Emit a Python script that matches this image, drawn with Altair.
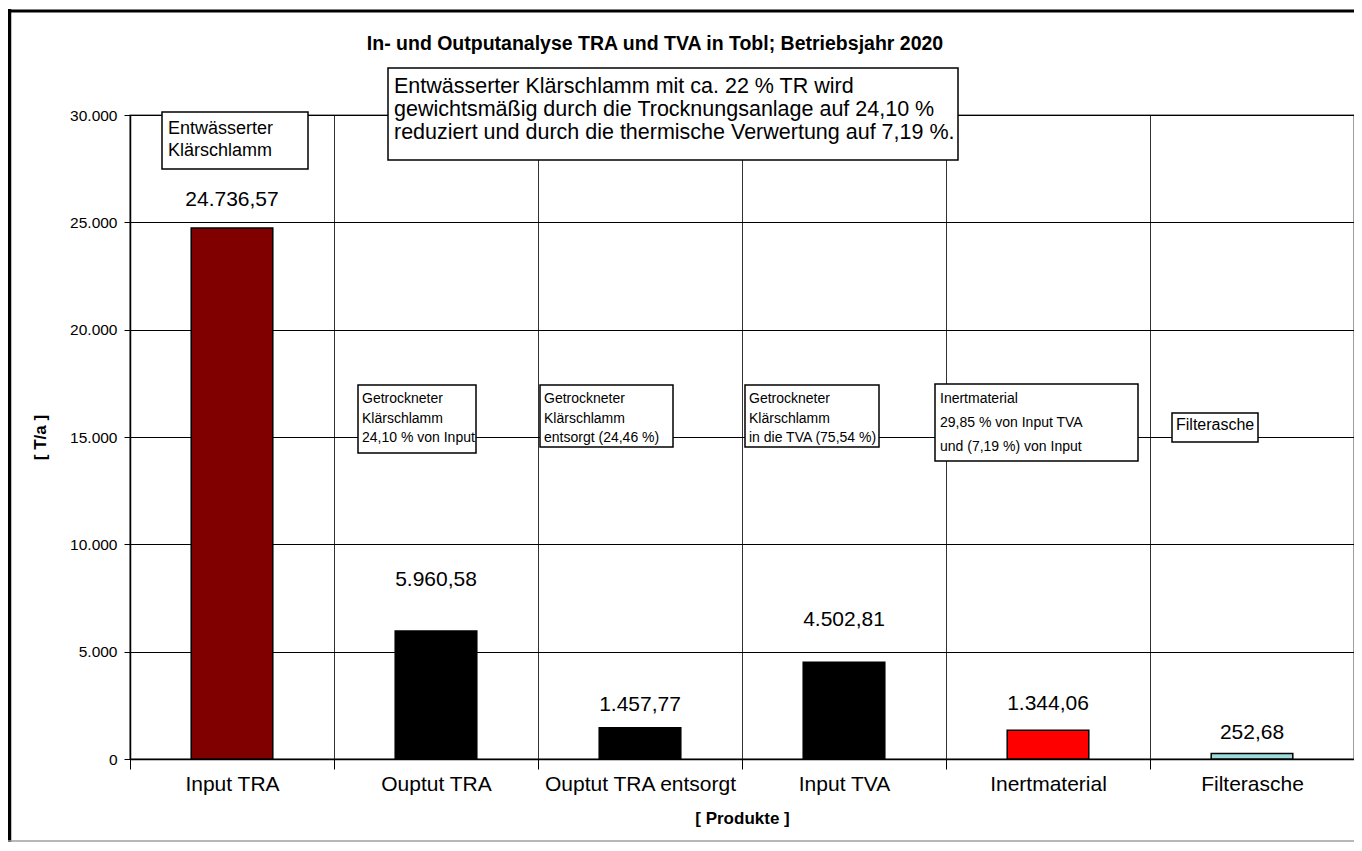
import altair as alt
import pandas as pd

# ---------------- data ----------------
categories = ["Input TRA", "Ouptut TRA", "Ouptut TRA entsorgt", "Input TVA", "Inertmaterial", "Filterasche"]
values = [24736.57, 5960.58, 1457.77, 4502.81, 1344.06, 252.68]
bar_colors = ["#800000", "#000000", "#000000", "#000000", "#FF0000", "#9FD9D9"]
y_ticks = [0, 5000, 10000, 15000, 20000, 25000, 30000]

title_text = "In- und Outputanalyse TRA und TVA in Tobl; Betriebsjahr 2020"
y_title = "[ T/a ]"
x_title = "[ Produkte ]"

box_texts = [
    ["Entwässerter", "Klärschlamm"],
    ["Entwässerter Klärschlamm mit ca. 22 % TR wird",
     "gewichtsmäßig durch die Trocknungsanlage auf 24,10 %",
     "reduziert und durch die thermische Verwertung auf 7,19 %."],
    ["Getrockneter", "Klärschlamm", "24,10 % von Input"],
    ["Getrockneter", "Klärschlamm", "entsorgt (24,46 %)"],
    ["Getrockneter", "Klärschlamm", "in die TVA (75,54 %)"],
    ["Inertmaterial", "29,85 % von Input TVA", "und (7,19 %) von Input"],
    ["Filterasche"],
]


def de_fmt(v):
    s = f"{v:,.2f}"
    return s.replace(",", "#").replace(".", ",").replace("#", ".")


df = pd.DataFrame({"Produkt": categories, "Menge": values,
                   "Label": [de_fmt(v) for v in values]})

# ---------------- layout (pixels, relative to plot area) ----------------
W, H = 1224, 644
FONT = "Liberation Sans"
label_dy = [-28, -51, -23, -42, -26, -21]
# box: (x0, x1, y0, y1, text_x, first_baseline, font_size, line_height)
box_layout = [
    (32, 178, -3, 54, 38, 19, 18, 22),
    (258, 828, -47, 45, 264, -22.5, 21.5, 23),
    (228, 346, 270, 338, 232, 288, 14, 19.5),
    (410, 543, 270, 332, 414, 288, 14, 19.5),
    (615, 749, 270, 332, 619, 288, 14, 19.5),
    (805, 1008, 269, 346, 810, 288, 14, 24),
    (1042, 1128, 298, 327, 1046, 315, 16, 19),
]

one = pd.DataFrame({"k": [0]})

bars = alt.Chart(df).mark_bar(stroke="black", strokeWidth=1.5,
                              width=alt.RelativeBandSize(0.4)).encode(
    x=alt.X("Produkt:N", sort=categories,
            scale=alt.Scale(paddingInner=0, paddingOuter=0),
            axis=alt.Axis(title=x_title, labelAngle=0, tickBand="extent", grid=True,
                          gridColor="#333333", gridWidth=1, tickSize=10, labelLimit=0,
                          labelPadding=4, labelFontSize=21, titlePadding=16,
                          titleFontSize=17)),
    y=alt.Y("Menge:Q", scale=alt.Scale(domain=[0, 30000], nice=False),
            axis=alt.Axis(title=y_title, values=y_ticks, grid=True, gridColor="#000000",
                          gridWidth=1, tickSize=6, labelPadding=7, labelFontSize=15.5,
                          labelExpr="replace(format(datum.value, ',.0f'), ',', '.')",
                          titlePadding=20, titleFontSize=17)),
    color=alt.Color("Produkt:N", scale=alt.Scale(domain=categories, range=bar_colors),
                    legend=None),
)

layers = [bars]
for i, cat in enumerate(categories):
    layers.append(
        alt.Chart(df).transform_filter(alt.datum.Produkt == cat)
        .mark_text(dy=label_dy[i], fontSize=21, font=FONT, baseline="middle", color="black")
        .encode(x=alt.X("Produkt:N", sort=categories), y=alt.Y("Menge:Q"), text="Label:N")
    )

for lines, (x0, x1, y0, y1, tx, ty, fs, lh) in zip(box_texts, box_layout):
    layers.append(
        alt.Chart(one).mark_rect(fill="white", stroke="black", strokeWidth=1.5)
        .encode(x=alt.value(x0), x2=alt.value(x1), y=alt.value(y0), y2=alt.value(y1))
    )
    layers.append(
        alt.Chart(one).mark_text(align="left", baseline="alphabetic", fontSize=fs,
                                 lineHeight=lh, font=FONT, color="black", text=lines)
        .encode(x=alt.value(tx), y=alt.value(ty))
    )

# chart title
layers.append(
    alt.Chart(one).mark_text(align="center", baseline="middle", fontSize=19.5,
                             fontWeight="bold", font=FONT, color="black", text=title_text)
    .encode(x=alt.value(525), y=alt.value(-71))
)

# outer frame
layers.append(alt.Chart(one).mark_rule(color="black", strokeWidth=3)
              .encode(x=alt.value(-122), x2=alt.value(1250), y=alt.value(-104)))
layers.append(alt.Chart(one).mark_rule(color="black", strokeWidth=3.5)
              .encode(x=alt.value(-120.5), y=alt.value(-106), y2=alt.value(727)))
layers.append(alt.Chart(one).mark_rule(color="#A0A0A0", strokeWidth=1.5)
              .encode(x=alt.value(-122), x2=alt.value(1250), y=alt.value(726)))

chart = alt.layer(*layers).properties(
    width=W, height=H,
    padding={"left": 122, "top": 107, "right": 0, "bottom": 84},
    autosize=alt.AutoSizeParams(type="none"),
).configure_view(
    stroke="#808080", strokeWidth=1.5
).configure_axis(
    domainColor="black", tickColor="black", labelColor="black", titleColor="black",
    labelFont=FONT, titleFont=FONT, titleFontWeight="bold", domainWidth=1.5,
)

chart.save("out.html", embed_options={"renderer": "svg", "actions": False})
